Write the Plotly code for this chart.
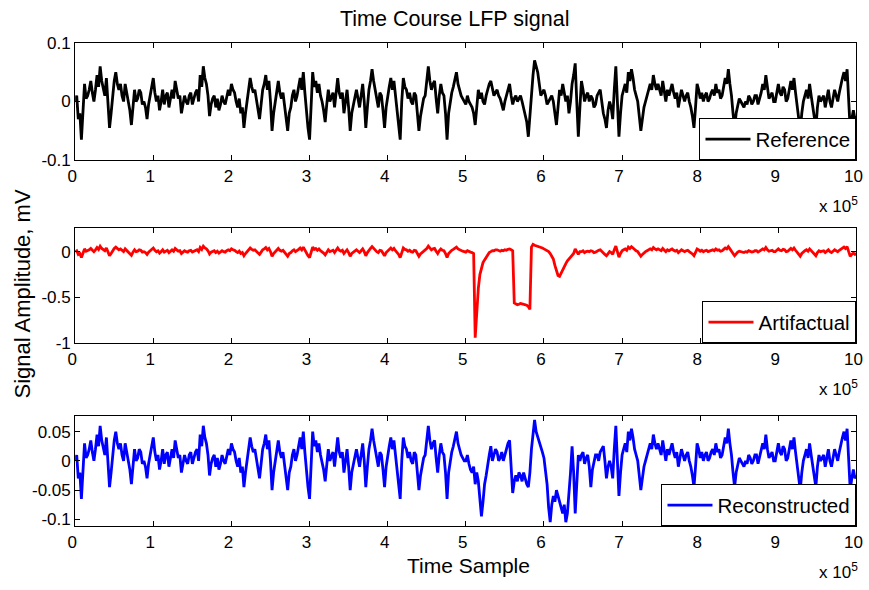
import numpy as np
import plotly.graph_objects as go

# Time sample positions, in units of 1e5 samples (0 .. 10 -> 0 .. 1e6), step 0.02
t = np.linspace(0, 10, 501)

# ---- Reference signal (mV), one row per 1e5 samples (50 samples each) ----
ref_u0 = [0.0, 0.01, -0.03, -0.02, -0.065, -0.01, 0.03, 0.005, 0.01, 0.02, 0.035, 0.015, 0.0, 0.02, 0.045, 0.025, 0.06, 0.035, 0.02, 0.01, 0.04, 0.005, -0.045, -0.02, 0.01, 0.035, 0.05, 0.03, 0.02, 0.03, 0.01, 0.0, 0.03, 0.015, -0.005, -0.015, -0.04, -0.005, 0.02, 0.0, 0.005, 0.02, 0.015, -0.005, 0.0, -0.01, -0.03, -0.005, 0.01, 0.025]
ref_u1 = [0.04, 0.015, 0.0, 0.01, -0.015, 0.0, 0.02, -0.005, 0.01, 0.015, -0.01, 0.005, 0.02, 0.005, 0.035, 0.02, 0.005, 0.01, -0.02, -0.005, 0.01, 0.0, -0.005, 0.01, 0.015, -0.005, 0.005, 0.015, 0.02, 0.0, 0.045, 0.025, 0.06, 0.04, 0.03, 0.01, -0.025, -0.005, 0.005, 0.01, -0.01, 0.005, -0.015, -0.005, 0.01, 0.0, -0.005, 0.01, 0.02, 0.01]
ref_u2 = [0.03, 0.02, 0.015, 0.0, -0.01, 0.005, -0.02, -0.01, -0.045, -0.02, 0.0, 0.02, 0.04, 0.025, 0.015, 0.02, 0.005, -0.01, -0.03, -0.005, 0.02, 0.03, 0.045, 0.02, 0.035, 0.0, -0.05, -0.02, 0.0, 0.02, 0.035, 0.015, 0.005, 0.015, -0.01, -0.025, -0.05, -0.02, -0.01, 0.01, 0.02, 0.0, 0.01, 0.025, 0.04, 0.02, 0.05, 0.015, -0.02, -0.045]
ref_u3 = [-0.065, -0.01, 0.05, 0.025, 0.035, 0.015, 0.03, 0.01, 0.0, -0.015, -0.035, -0.005, 0.02, 0.0, 0.01, 0.015, -0.01, 0.02, 0.04, 0.015, 0.005, 0.015, -0.02, 0.0, 0.02, -0.01, -0.05, -0.02, -0.005, 0.01, 0.02, 0.005, -0.01, 0.01, 0.03, 0.0, -0.045, -0.01, 0.02, 0.035, 0.055, 0.035, 0.02, 0.0, -0.01, 0.015, 0.01, -0.015, -0.045, -0.01]
ref_u4 = [0.01, 0.025, 0.04, 0.02, 0.035, 0.01, -0.01, -0.03, -0.065, 0.0, 0.04, 0.025, 0.02, 0.005, 0.015, 0.0, -0.005, 0.015, 0.01, -0.02, -0.05, -0.025, -0.01, 0.005, 0.01, 0.035, 0.06, 0.035, 0.02, 0.03, 0.035, 0.005, -0.02, 0.01, 0.03, 0.015, 0.01, -0.02, -0.065, -0.02, 0.0, 0.015, 0.025, 0.04, 0.05, 0.03, 0.02, 0.01, 0.005, 0.0]
ref_u5 = [-0.005, 0.01, 0.0, -0.005, -0.01, -0.02, -0.04, -0.01, 0.02, 0.005, 0.015, 0.0, -0.005, 0.01, 0.02, 0.03, 0.035, 0.02, 0.01, 0.015, 0.02, 0.01, 0.005, -0.005, -0.015, 0.0, 0.01, 0.02, 0.03, 0.01, -0.005, 0.005, 0.01, 0.0, 0.005, 0.01, 0.0, -0.01, -0.02, -0.035, -0.06, -0.02, 0.01, 0.045, 0.07, 0.06, 0.05, 0.03, 0.01, 0.015]
ref_u6 = [0.02, 0.01, -0.005, 0.0, 0.005, 0.01, 0.0, -0.02, -0.04, -0.01, 0.02, 0.01, 0.03, 0.015, 0.0, 0.01, -0.02, 0.0, 0.03, 0.045, 0.065, 0.0, -0.06, -0.01, 0.035, 0.02, 0.0, 0.01, 0.015, 0.0, 0.01, 0.005, -0.01, -0.005, 0.01, 0.015, 0.02, 0.0, -0.02, -0.03, -0.045, -0.015, 0.0, -0.01, -0.03, 0.02, 0.06, 0.0, -0.06, -0.02]
ref_u7 = [0.01, 0.02, 0.03, 0.015, 0.05, 0.035, 0.055, 0.04, 0.02, 0.01, 0.0, -0.025, -0.05, -0.03, -0.01, 0.0, 0.01, 0.02, 0.03, 0.02, 0.045, 0.03, 0.02, 0.03, 0.02, 0.01, 0.035, 0.015, 0.0, 0.02, 0.01, 0.02, 0.03, 0.015, 0.005, 0.015, -0.01, 0.005, 0.02, 0.01, 0.0, 0.01, 0.015, 0.0, -0.01, -0.025, -0.045, -0.01, 0.03, 0.02]
ref_u8 = [0.005, 0.015, 0.0, 0.01, 0.015, 0.0, 0.005, 0.015, 0.02, 0.01, 0.03, 0.015, 0.02, 0.005, 0.01, 0.025, 0.04, 0.03, 0.055, 0.03, 0.01, -0.02, -0.045, -0.02, -0.005, 0.005, 0.0, -0.005, -0.01, 0.0, -0.005, 0.01, 0.005, -0.005, 0.0, 0.01, 0.01, -0.005, 0.005, 0.015, 0.03, 0.02, 0.045, 0.02, 0.005, 0.01, 0.015, 0.0, 0.0, 0.015]
ref_u9 = [0.03, 0.015, 0.01, 0.025, 0.02, 0.0, 0.005, 0.02, 0.035, 0.02, 0.04, 0.015, -0.01, -0.03, -0.05, -0.02, 0.0, 0.01, 0.02, 0.005, 0.03, 0.01, -0.01, -0.03, -0.045, -0.01, 0.01, 0.0, 0.005, 0.01, -0.01, 0.005, 0.02, 0.0, -0.01, 0.005, 0.02, 0.01, 0.0, 0.015, 0.03, 0.04, 0.05, 0.035, 0.055, 0.0, -0.05, -0.03, -0.015, -0.03]
ref_end = [-0.025]

# ---- Artifactual signal (mV): outside 5..7 it reads identical to the reference ----
art_u5 = [-0.005, 0.01, 0.0, -0.005, -0.01, -0.02, -0.94, -0.6, -0.4, -0.25, -0.17, -0.12, -0.09, -0.06, -0.03, -0.01, 0.0, 0.01, 0.01, 0.02, 0.02, 0.01, 0.005, 0.015, 0.01, 0.02, 0.015, 0.025, 0.03, 0.02, 0.01, -0.56, -0.57, -0.58, -0.575, -0.565, -0.57, -0.575, -0.58, -0.585, -0.6, -0.63, 0.05, 0.08, 0.07, 0.065, 0.06, 0.05, 0.045, 0.04]
art_u6 = [0.03, 0.02, 0.01, 0.0, -0.02, -0.05, -0.08, -0.15, -0.22, -0.26, -0.27, -0.23, -0.19, -0.16, -0.13, -0.1, -0.08, -0.06, -0.04, -0.02, 0.03, -0.01, -0.03, 0.0, 0.0, 0.01, -0.01, 0.0, 0.005, 0.0, 0.01, 0.005, -0.01, -0.005, 0.01, 0.015, 0.02, 0.0, -0.02, -0.03, -0.045, -0.015, 0.0, -0.01, -0.03, 0.02, 0.06, 0.0, -0.06, -0.02]

# ---- Reconstructed signal (mV): outside 5..7 it reads identical to the reference ----
rec_u5 = [0.0, 0.01, -0.005, -0.015, -0.02, -0.01, -0.04, -0.02, -0.035, -0.06, -0.095, -0.07, -0.04, -0.025, -0.005, 0.01, 0.025, 0.0, 0.01, 0.02, 0.015, 0.0, 0.005, 0.015, 0.0, 0.01, 0.02, 0.03, 0.035, -0.01, -0.055, -0.035, -0.025, -0.035, -0.02, -0.025, -0.035, -0.02, -0.03, -0.04, -0.045, -0.02, 0.02, 0.045, 0.07, 0.05, 0.04, 0.03, 0.02, 0.015]
rec_u6 = [0.005, -0.02, -0.04, -0.08, -0.105, -0.075, -0.06, -0.07, -0.05, -0.06, -0.07, -0.08, -0.09, -0.075, -0.105, -0.09, -0.06, -0.02, 0.025, -0.02, -0.09, -0.03, 0.01, 0.0, 0.01, 0.015, -0.005, 0.005, 0.01, -0.01, -0.045, -0.015, 0.0, 0.01, 0.01, 0.0, 0.015, 0.02, 0.025, 0.0, -0.03, -0.01, 0.0, -0.01, -0.03, 0.02, 0.06, 0.0, -0.06, -0.02]

reference = ref_u0 + ref_u1 + ref_u2 + ref_u3 + ref_u4 + ref_u5 + ref_u6 + ref_u7 + ref_u8 + ref_u9 + ref_end
artifactual = ref_u0 + ref_u1 + ref_u2 + ref_u3 + ref_u4 + art_u5 + art_u6 + ref_u7 + ref_u8 + ref_u9 + ref_end
reconstructed = ref_u0 + ref_u1 + ref_u2 + ref_u3 + ref_u4 + rec_u5 + rec_u6 + ref_u7 + ref_u8 + ref_u9 + ref_end

x_ticks = list(range(11))
y1_ticks = [-0.1, 0, 0.1]
y1_text = ["-0.1", "0", "0.1"]
y2_ticks = [-1, -0.5, 0]
y2_text = ["-1", "-0.5", "0"]
y3_ticks = [-0.1, -0.05, 0, 0.05]
y3_text = ["-0.1", "-0.05", "0", "0.05"]

W, H = 869, 590
# the page shows the figure inside an 8px body margin, scaled to fit the window
OX, OY, AW, AH = 8, 8, W - 16, H - 16


def fx(px):
    return (px - OX) / AW


def fy(py):
    return 1 - (py - OY) / AH


FONT = "Arial, Liberation Sans, sans-serif"
XDOM = [fx(75), fx(854.5)]
panels = [(42, 160), (228, 344), (417, 528)]  # target pixel top/bottom of each panel
ydoms = [[fy(b), fy(t_)] for (t_, b) in panels]

fig = go.Figure()
fig.add_trace(go.Scatter(x=t, y=reference, mode="lines", name="Reference",
                         line=dict(color="#000000", width=2.8), xaxis="x", yaxis="y", legend="legend"))
fig.add_trace(go.Scatter(x=t, y=artifactual, mode="lines", name="Artifactual",
                         line=dict(color="#ff0000", width=2.8), xaxis="x2", yaxis="y2", legend="legend2"))
fig.add_trace(go.Scatter(x=t, y=reconstructed, mode="lines", name="Reconstructed",
                         line=dict(color="#0000ff", width=2.8), xaxis="x3", yaxis="y3", legend="legend3"))


def xa(anchor):
    return dict(domain=XDOM, range=[0, 10], tickvals=x_ticks, ticktext=[str(v) for v in x_ticks],
                ticks="inside", ticklen=5, tickcolor="black", mirror="allticks", showline=True,
                linecolor="black", linewidth=1, showgrid=False, zeroline=False, anchor=anchor,
                ticklabeloverflow="allow", ticklabelshift=-3,
                tickfont=dict(family=FONT, size=17, color="black"))


def ya(anchor, dom, rng, tv, tt):
    return dict(domain=dom, range=rng, tickvals=tv, ticktext=tt,
                ticks="inside", ticklen=5, tickcolor="black", mirror="allticks", showline=True,
                linecolor="black", linewidth=1, showgrid=False, zeroline=False, anchor=anchor,
                tickfont=dict(family=FONT, size=17, color="black"))


def lg(ybottom):
    return dict(x=XDOM[1], xanchor="right", y=ybottom, yanchor="bottom",
                bordercolor="black", borderwidth=1, bgcolor="white", itemwidth=45,
                font=dict(family=FONT, size=20.5, color="black"))


annotations = [
    dict(text="Time Course LFP signal", x=fx(453), y=fy(18), xref="paper", yref="paper",
         showarrow=False, xanchor="center", yanchor="middle", font=dict(family=FONT, size=21.5, color="black")),
    dict(text="Signal Amplitude, mV", x=fx(22), y=fy(295), xref="paper", yref="paper",
         showarrow=False, textangle=-90, xanchor="center", yanchor="middle",
         font=dict(family=FONT, size=22, color="black")),
    dict(text="Time Sample", x=fx(467), y=fy(567), xref="paper", yref="paper",
         showarrow=False, xanchor="center", yanchor="middle", font=dict(family=FONT, size=21, color="black")),
]
for (t_, b) in panels:
    annotations.append(dict(text="x 10<sup>5</sup>", x=fx(858), y=fy(b + 45), xref="paper", yref="paper",
                            showarrow=False, xanchor="right", yanchor="middle",
                            font=dict(family=FONT, size=17, color="black")))

fig.update_layout(
    width=W, height=H,
    margin=dict(l=0, r=0, t=0, b=0),
    paper_bgcolor="white", plot_bgcolor="white",
    xaxis=xa("y"), yaxis=ya("x", ydoms[0], [-0.1, 0.1], y1_ticks, y1_text),
    xaxis2=xa("y2"), yaxis2=ya("x2", ydoms[1], [-1, 0.26], y2_ticks, y2_text),
    xaxis3=xa("y3"), yaxis3=ya("x3", ydoms[2], [-0.112, 0.077], y3_ticks, y3_text),
    legend=lg(ydoms[0][0]), legend2=lg(ydoms[1][0]), legend3=lg(ydoms[2][0]),
    showlegend=True,
    annotations=annotations,
)

fig.write_html("out.html")
